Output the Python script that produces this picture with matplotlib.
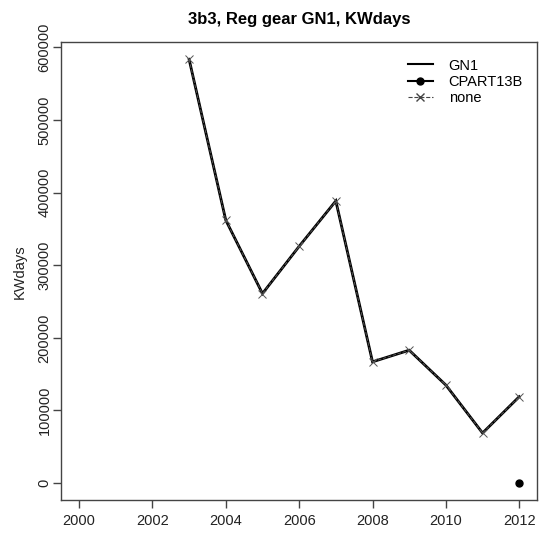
import matplotlib
matplotlib.use("Agg")
import matplotlib.pyplot as plt
from matplotlib.lines import Line2D

plt.rcParams['font.family'] = ['Liberation Sans', 'DejaVu Sans']

years = [2003, 2004, 2005, 2006, 2007, 2008, 2009, 2010, 2011, 2012]
gn1_kwdays = [583500, 362000, 261000, 326000, 388500, 167000, 183000, 135000, 69000, 119000]
none_kwdays = gn1_kwdays  # no-gear-info series coincides with GN1
cpart_years = [2012]
cpart_kwdays = [0]

x_ticks = [2000, 2002, 2004, 2006, 2008, 2010, 2012]
y_ticks = [0, 100000, 200000, 300000, 400000, 500000, 600000]

fig = plt.figure(figsize=(5.39, 5.36), dpi=100)
ax = fig.add_axes([0.114, 0.067, 0.882, 0.854])

ax.plot(years, gn1_kwdays, color='black', lw=2, solid_joinstyle='miter')
ax.plot(years, none_kwdays, color='#555555', lw=0.7, ls='--', marker='x',
        markersize=6, markeredgewidth=0.7)
ax.plot(cpart_years, cpart_kwdays, 'o', color='black', markersize=5)

ax.set_xlim(1999.52, 2012.48)
ax.set_ylim(-23340, 606840)
ax.set_xticks(x_ticks)
ax.set_xticklabels([str(t) for t in x_ticks])
ax.set_yticks(y_ticks)
ax.set_yticklabels([str(t) for t in y_ticks], rotation=90, va='center')

for s in ax.spines.values():
    s.set_color('#444444')
    s.set_linewidth(1)
ax.tick_params(direction='out', length=6, width=1, color='#444444',
               labelsize=10.5, labelcolor='#222222')
ax.tick_params(axis='y', pad=1)
ax.tick_params(axis='x', pad=4)

ax.set_ylabel('KWdays', fontsize=10.5, color='#222222', labelpad=8)
ax.set_title('3b3, Reg gear GN1, KWdays', fontsize=12, fontweight='bold', pad=13)

handles = [
    Line2D([], [], color='black', lw=1.5),
    Line2D([], [], color='black', lw=1.5, marker='o', markersize=5),
    Line2D([], [], color='#444444', lw=0.8, ls='--', marker='x', markersize=6),
]
ax.legend(handles, ['GN1', 'CPART13B', 'none'], loc='upper right', frameon=False,
          fontsize=10.5, handlelength=1.7, handletextpad=1.1, labelspacing=0.15,
          borderaxespad=0.4, bbox_to_anchor=(0.995, 0.99))

fig.savefig('out.png', dpi=100)
